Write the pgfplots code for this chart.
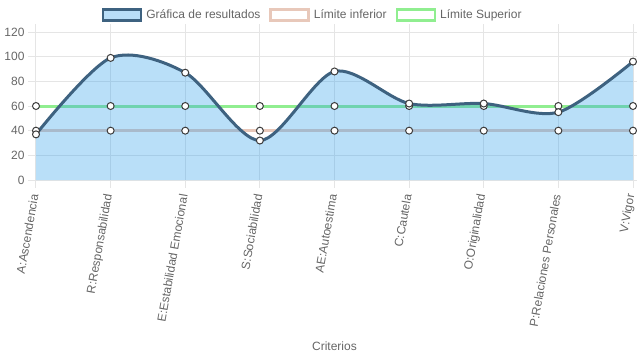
\documentclass[border=0pt]{standalone}
\usepackage{fontspec}
\setmainfont{Liberation Sans}
\usepackage{pgfplots}
\pgfplotsset{compat=1.18}
\definecolor{res}{RGB}{62,98,128}
\definecolor{fillb}{RGB}{54,162,235}
\definecolor{infc}{RGB}{232,200,186}
\definecolor{supc}{RGB}{144,238,144}
\definecolor{txt}{RGB}{102,102,102}
\definecolor{grd}{RGB}{229,229,229}
\definecolor{mk}{RGB}{60,60,60}
\begin{document}
\begin{tikzpicture}[x=1pt,y=1pt]
\useasboundingbox (-36,-179) rectangle (601,180);
\begin{axis}[
  at={(0,0)}, anchor=south west, scale only axis,
  width=597pt, height=148pt,
  xmin=0, xmax=8, ymin=0, ymax=120,
  clip=false,
  xtick={0,...,8},
  xticklabels={A:Ascendencia,R:Responsabilidad,E:Estabilidad Emocional,S:Sociabilidad,AE:Autoestima,C:Cautela,O:Originalidad,P:Relaciones Personales,V:Vigor},
  ytick={0,20,...,120},
  grid=major, grid style={grd, line width=1pt},
  axis line style={draw=grd, line width=1pt},
  tick align=outside, major tick length=8pt,
  tick style={grd, line width=1pt},
  /pgf/number format/assume math mode=true,
  ticklabel style={font=\fontsize{12}{14}\selectfont, text=txt},
  yticklabel style={xshift=0pt},
  xticklabel style={yshift=-3pt, xshift=-1pt, rotate=80, anchor=east},
  xlabel={Criterios},
  xlabel style={at={(axis description cs:0.5,-1.12)}, anchor=center, font=\fontsize{12}{14}\selectfont, text=txt},
  legend style={at={(axis description cs:0.4635,1.115)}, anchor=center, draw=none,
    font=\fontsize{12}{14}\selectfont, text=txt,
    /tikz/every odd column/.append style={column sep=2pt},
    /tikz/every even column/.append style={column sep=7pt}},
  legend columns=3,
]
\addlegendimage{legend image code/.code={\draw[draw=res, line width=2.5pt, fill=fillb!35!white] (0pt,-5.5pt) rectangle (38pt,5.5pt);}}
\addlegendentry{Gráfica de resultados}
\addlegendimage{legend image code/.code={\draw[draw=infc, line width=2.5pt, fill=white] (0pt,-5.5pt) rectangle (38pt,5.5pt);}}
\addlegendentry{Límite inferior}
\addlegendimage{legend image code/.code={\draw[draw=supc, line width=2.5pt, fill=white] (0pt,-5.5pt) rectangle (38pt,5.5pt);}}
\addlegendentry{Límite Superior}

\addplot[forget plot, color=infc, line width=3pt, mark=*, mark size=3.5pt, mark options={fill=white, draw=mk, line width=1pt}]
  coordinates {(0,40) (1,40) (2,40) (3,40) (4,40) (5,40) (6,40) (7,40) (8,40)};
\addplot[forget plot, color=supc, line width=3pt, mark=*, mark size=3.5pt, mark options={fill=white, draw=mk, line width=1pt}]
  coordinates {(0,60) (1,60) (2,60) (3,60) (4,60) (5,60) (6,60) (7,60) (8,60)};
\addplot[forget plot, draw=none, fill=fillb, fill opacity=0.35, smooth, tension=0.5]
  coordinates {(0,37) (1,99) (2,87) (3,32) (4,88) (5,62) (6,62) (7,55) (8,96)} \closedcycle;
\addplot[forget plot, color=res, line width=3pt, smooth, tension=0.5, mark=*, mark size=3.5pt, mark options={fill=white, draw=mk, line width=1pt}]
  coordinates {(0,37) (1,99) (2,87) (3,32) (4,88) (5,62) (6,62) (7,55) (8,96)};
\end{axis}
\end{tikzpicture}
\end{document}
